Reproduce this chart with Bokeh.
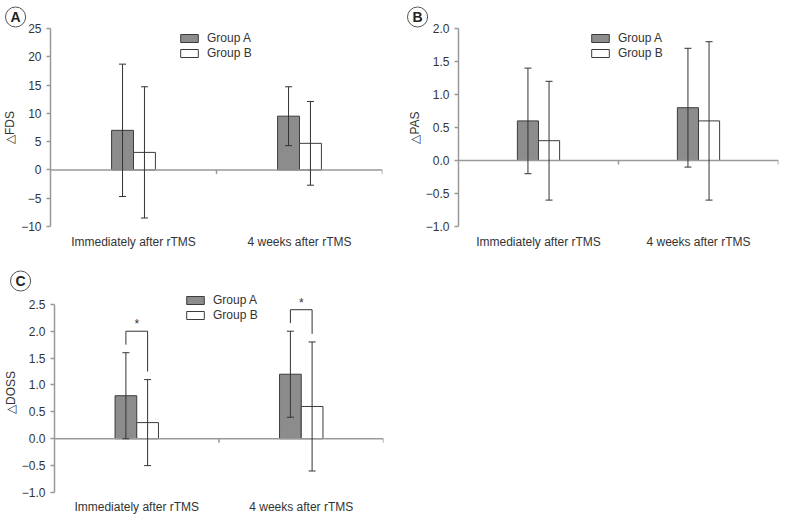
from bokeh.plotting import figure
from bokeh.models import (Range1d, FixedTicker, ColumnDataSource, Whisker, TeeHead,
                          Span, Legend, LegendItem, Label, Title, CustomJSTickFormatter)
from bokeh.layouts import row, column
from bokeh.embed import file_html
from bokeh.resources import INLINE

# ---------------- data ----------------
categories = ["Immediately after rTMS", "4 weeks after rTMS"]
groups = ["Group A", "Group B"]

fds_a = [7.0, 9.5]
fds_a_sd = [11.7, 5.2]
fds_b = [3.1, 4.7]
fds_b_sd = [11.6, 7.4]
fds_ticks = [-10, -5, 0, 5, 10, 15, 20, 25]

pas_a = [0.6, 0.8]
pas_a_sd = [0.8, 0.9]
pas_b = [0.3, 0.6]
pas_b_sd = [0.9, 1.2]
pas_ticks = [-1.0, -0.5, 0.0, 0.5, 1.0, 1.5, 2.0]

doss_a = [0.8, 1.2]
doss_a_sd = [0.8, 0.8]
doss_b = [0.3, 0.6]
doss_b_sd = [0.8, 1.2]
doss_ticks = [-1.0, -0.5, 0.0, 0.5, 1.0, 1.5, 2.0, 2.5]
doss_significant = [True, True]

# ---------------- style ----------------
FONT = "Liberation Sans"
TEXT = "#333333"
AXIS = "#999999"
BAR_W = 0.132
FILL_A = "#8c8c8c"
EDGE = "#3c3c3c"


def make_panel(letter, ylabel, a_vals, a_sd, b_vals, b_sd, ticks, decimals,
               width, height, bl, br, bt, bb, legend_xy, letter_offset,
               y_end=None, label_standoff=8, significant=None):
    ymin, ymax = ticks[0], ticks[-1]
    top_end = ymax if y_end is None else y_end
    n = len(categories)
    title = Title(text=letter, align="left", offset=letter_offset, standoff=3,
                  text_font=FONT, text_font_size="14px", text_font_style="bold",
                  text_color="#222222", border_line_color="#555555",
                  border_line_width=1, border_radius=10,
                  padding=dict(left=5, right=5, top=2, bottom=2))
    p = figure(width=width, height=height, x_range=Range1d(0, n),
               y_range=Range1d(ymin, top_end), output_backend="svg",
               toolbar_location=None, min_border_left=bl, min_border_right=br,
               min_border_top=bt, min_border_bottom=bb, title=title)
    p.outline_line_color = None
    p.grid.visible = False
    p.background_fill_color = "white"
    p.border_fill_color = "white"
    frame_h = height - bt - bb

    centers = [i + 0.5 for i in range(n)]
    xa = [c - BAR_W / 2 for c in centers]
    xb = [c + BAR_W / 2 for c in centers]

    # x axis: category labels only
    xax = p.xaxis[0]
    xax.ticker = FixedTicker(ticks=centers, minor_ticks=[])
    xax.major_label_overrides = {c: cat for c, cat in zip(centers, categories)}
    xax.axis_line_color = None
    xax.major_tick_line_color = None
    xax.minor_tick_line_color = None
    xax.major_tick_out = 0
    xax.major_tick_in = 0
    xax.major_label_standoff = label_standoff
    xax.major_label_text_font = FONT
    xax.major_label_text_font_size = "12px"
    xax.major_label_text_color = TEXT

    # y axis
    ya = p.yaxis[0]
    ya.ticker = FixedTicker(ticks=ticks, minor_ticks=[])
    ya.bounds = (ymin, ymax)
    ya.formatter = CustomJSTickFormatter(
        args=dict(d=decimals),
        code="return tick.toFixed(d).replace('-', '\u2212');")
    ya.axis_line_color = AXIS
    ya.axis_line_width = 1.5
    ya.major_tick_line_color = AXIS
    ya.major_tick_line_width = 1.5
    ya.minor_tick_line_color = None
    ya.major_tick_out = 4
    ya.major_tick_in = 0
    ya.major_label_standoff = 5
    ya.major_label_text_font = FONT
    ya.major_label_text_font_size = "12px"
    ya.major_label_text_color = TEXT
    ya.axis_label = ylabel
    ya.axis_label_standoff = 1
    ya.axis_label_text_font = FONT
    ya.axis_label_text_font_size = "12px"
    ya.axis_label_text_font_style = "normal"
    ya.axis_label_text_color = TEXT

    # zero line with category boundary ticks
    p.add_layout(Span(location=0, dimension="width", line_color=AXIS, line_width=1.5))
    bounds = [i + 1 for i in range(n)]
    tick_len = (top_end - ymin) * 4.0 / frame_h
    p.segment(x0=bounds, y0=[0] * n, x1=bounds, y1=[-tick_len] * n,
              line_color=AXIS, line_width=1.5)

    # bars
    ra = p.vbar(x=xa, top=a_vals, bottom=0, width=BAR_W, fill_color=FILL_A,
                line_color=EDGE, line_width=1)
    rb = p.vbar(x=xb, top=b_vals, bottom=0, width=BAR_W, fill_color="white",
                line_color=EDGE, line_width=1)

    # error bars
    base = xa + xb
    vals = list(a_vals) + list(b_vals)
    sds = list(a_sd) + list(b_sd)
    src = ColumnDataSource(dict(base=base,
                                upper=[v + s for v, s in zip(vals, sds)],
                                lower=[v - s for v, s in zip(vals, sds)]))
    w = Whisker(source=src, base="base", upper="upper", lower="lower",
                dimension="height", line_color="#333333", line_width=1,
                upper_head=TeeHead(size=7, line_color="#333333", line_width=1),
                lower_head=TeeHead(size=7, line_color="#333333", line_width=1),
                level="annotation")
    p.add_layout(w)

    # legend
    legend = Legend(items=[LegendItem(label=groups[0], renderers=[ra]),
                           LegendItem(label=groups[1], renderers=[rb])],
                    location=legend_xy, glyph_width=22, glyph_height=10,
                    label_standoff=7, label_height=15, spacing=0, padding=0,
                    margin=0, border_line_color=None, background_fill_alpha=0,
                    label_text_font=FONT, label_text_font_size="12px",
                    label_text_color=TEXT)
    p.add_layout(legend)

    # significance brackets
    if significant is not None:
        for i, sig in enumerate(significant):
            if not sig:
                continue
            up_a = a_vals[i] + a_sd[i]
            up_b = b_vals[i] + b_sd[i]
            top = max(up_a, up_b) + 0.4
            p.line(x=[xa[i], xa[i], xb[i], xb[i]],
                   y=[up_a + 0.15, top, top, up_b + 0.15],
                   line_color="#333333", line_width=1)
            p.add_layout(Label(x=(xa[i] + xb[i]) / 2, y=top, text="*",
                               text_align="center", text_baseline="bottom",
                               text_font=FONT, text_font_size="12px",
                               text_color=TEXT))
    return p


pA = make_panel("A", "\u25b3FDS", fds_a, fds_a_sd, fds_b, fds_b_sd, fds_ticks, 0,
                390, 264, 48, 8, 28, 38, (128, 166), -45)
pB = make_panel("B", "\u25b3PAS", pas_a, pas_a_sd, pas_b, pas_b_sd, pas_ticks, 1,
                390, 264, 68, 2, 28, 38, (131, 166), -51)
pC = make_panel("C", "\u25b3DOSS", doss_a, doss_a_sd, doss_b, doss_b_sd, doss_ticks, 1,
                390, 252, 48, 7, 28, 21, (130, 170), -44, y_end=2.72,
                label_standoff=7, significant=doss_significant)

layout = column(row(pA, pB), pC)
open("out.html", "w").write(file_html(layout, INLINE))
